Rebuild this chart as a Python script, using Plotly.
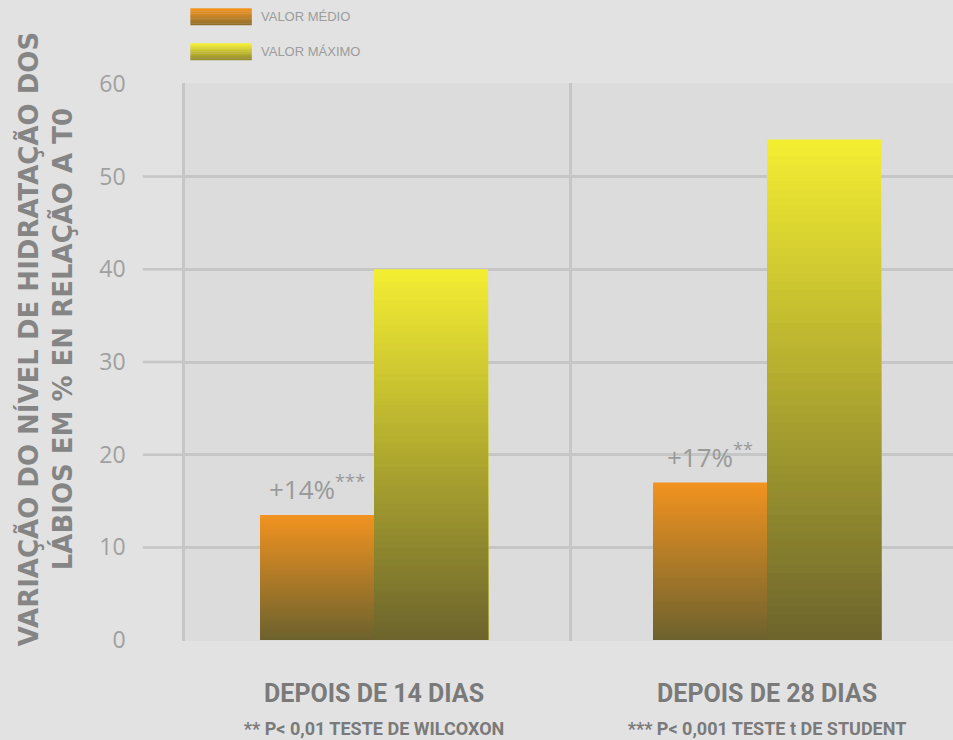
import plotly.graph_objects as go

categories = ["DEPOIS DE 14 DIAS", "DEPOIS DE 28 DIAS"]
footnotes = ["** P< 0,01 TESTE DE WILCOXON", "*** P< 0,001 TESTE t DE STUDENT"]
valor_medio = [13.5, 17.0]
valor_maximo = [40.0, 54.0]
medio_labels = ["+14%", "+17%"]
medio_stars = ["***", "**"]
series_names = ["VALOR MÉDIO", "VALOR MÁXIMO"]
y_ticks = [0, 10, 20, 30, 40, 50, 60]

LABEL_FONT = "Roboto, Liberation Sans, sans-serif"
GRID = "#c6c6c6"

grad = {
    "VALOR MÉDIO": ((242, 147, 32), (108, 98, 46)),
    "VALOR MÁXIMO": ((244, 238, 50), (108, 100, 44)),
}


def mix(top, bottom, f):
    return "rgb(%d,%d,%d)" % tuple(round(b + (t - b) * f) for t, b in zip(top, bottom))


fig = go.Figure()
N = 60
for name, vals in zip(series_names, [valor_medio, valor_maximo]):
    top, bottom = grad[name]
    for i in range(N):
        frac = (N - i) / N
        fig.add_trace(go.Bar(
            x=categories, y=[v * frac for v in vals],
            offsetgroup=name, name=name,
            marker=dict(color=mix(top, bottom, frac - 0.5 / N), line=dict(width=0)),
            showlegend=False, hoverinfo="skip" if i else "x+y+name",
        ))

# percentage annotations above VALOR MÉDIO bars
for c, v, lab, st in zip(categories, valor_medio, medio_labels, medio_stars):
    fig.add_annotation(x=c, y=v, xref="x", yref="y", xshift=-57, yshift=6,
                       text=f"{lab}<sup>{st}</sup>", showarrow=False,
                       xanchor="center", yanchor="bottom",
                       font=dict(family="Open Sans, sans-serif", size=26, color="#9a9a9a"))

# gridline extensions to the left of the axis
for t in y_ticks[1:-1]:
    fig.add_shape(type="line", xref="paper", yref="y", x0=-0.055, x1=0, y0=t, y1=t,
                  line=dict(color=GRID, width=2.5), layer="below")

# legend (manual, wide swatches)
for k, name in enumerate(series_names):
    top, bottom = grad[name]
    y_top = 1.134 - k * 0.0627  # paper coords
    h = 0.030
    S = 10
    for s in range(S):
        f = 1 - s / (S - 1)
        fig.add_shape(type="rect", xref="paper", yref="paper",
                      x0=0.007, x1=0.087,
                      y0=y_top - (s + 1) * h / S - 0.0005, y1=y_top - s * h / S,
                      fillcolor=mix(top, bottom, 0.3 + 0.7 * f), line=dict(width=0))
    fig.add_annotation(xref="paper", yref="paper", x=0.097, y=y_top - h / 2,
                       text=name, showarrow=False, xanchor="left", yanchor="middle",
                       font=dict(family="Liberation Sans, Arial, sans-serif", size=13,
                                 color="#9c9c9c"))

# y axis title (two lines)
fig.add_annotation(xref="paper", yref="paper", x=-0.182, y=0.541, textangle=-90,
                   text="VARIAÇÃO DO NÍVEL DE HIDRATAÇÃO DOS<br>LÁBIOS EM % EN RELAÇÃO A T0",
                   showarrow=False, xanchor="center", yanchor="middle", align="center",
                   font=dict(family="DejaVu Sans, sans-serif", size=26,
                             color="#858585", weight="bold"))

ticktext = [f"<b>{c}</b><br><span style='font-size:18px'><b>{f}</b></span>"
            for c, f in zip(categories, footnotes)]

fig.update_layout(
    width=953, height=740,
    margin=dict(l=185, r=0, t=83, b=99),
    paper_bgcolor="#e2e2e2", plot_bgcolor="#dcdcdc",
    barmode="group", bargap=0.42, bargroupgap=0,
    showlegend=False,
    xaxis=dict(type="category", range=[-0.481, 1.473], tickson="boundaries",
               showgrid=True, gridcolor=GRID, gridwidth=2.5,
               tickmode="array", tickvals=categories, ticktext=ticktext,
               ticks="", ticklabelstandoff=35, automargin=False,
               tickfont=dict(family=LABEL_FONT, size=25, color="#7a7a7a"),
               showline=False, zeroline=False, fixedrange=True),
    yaxis=dict(range=[-0.1, 60.1], tickvals=y_ticks, showgrid=True, gridcolor=GRID,
               gridwidth=2.5, showline=True, linecolor=GRID, linewidth=2.5,
               ticks="outside", ticklen=52, tickcolor="rgba(0,0,0,0)", automargin=False,
               tickfont=dict(family="Open Sans, sans-serif", size=23, color="#a0a0a0"),
               zeroline=False, fixedrange=True),
)

fig.write_html("out.html", config={"displayModeBar": False},
               post_script="document.body.style.margin='0';document.body.style.overflow='hidden';")
